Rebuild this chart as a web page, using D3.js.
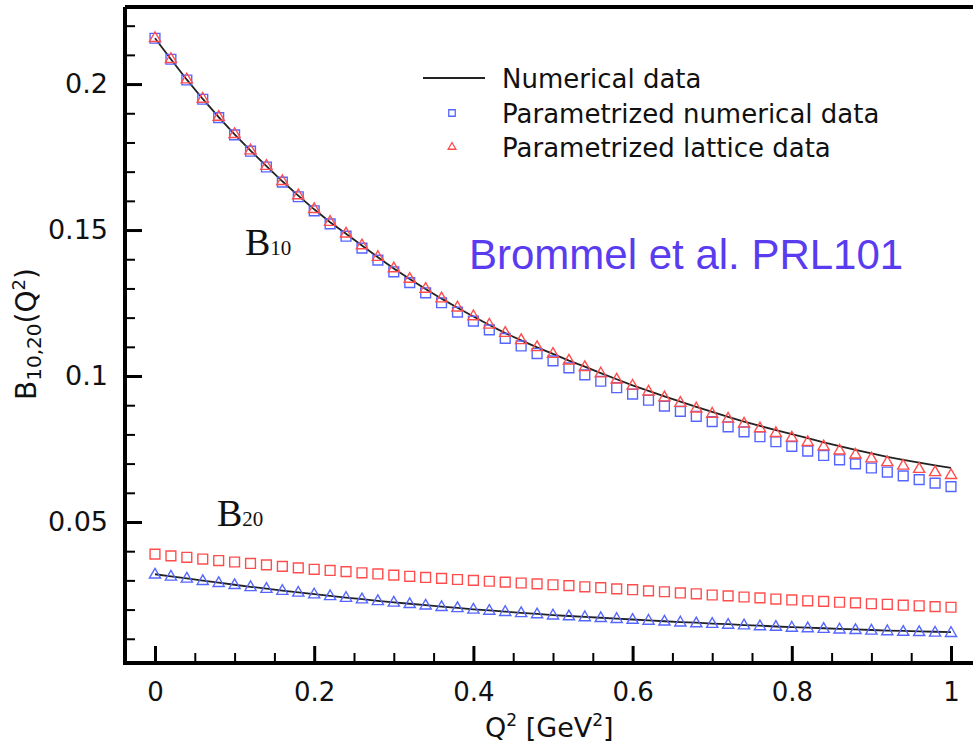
<!DOCTYPE html>
<html>
<head>
<meta charset="utf-8">
<script src="https://cdn.jsdelivr.net/npm/d3@7"></script>
<style>
  body { margin: 0; background: #fff; }
</style>
</head>
<body>
<svg id="viz" width="973" height="746" font-family="DejaVu Sans, sans-serif"></svg>
<script>
var width = 973;
var height = 746;

// ====================================================
// Data
// ====================================================
var q2 = [0, 0.02, 0.04, 0.06, 0.08, 0.1, 0.12, 0.14, 0.16, 0.18,
  0.2, 0.22, 0.24, 0.26, 0.28, 0.3, 0.32, 0.34, 0.36, 0.38,
  0.4, 0.42, 0.44, 0.46, 0.48, 0.5, 0.52, 0.54, 0.56, 0.58,
  0.6, 0.62, 0.64, 0.66, 0.68, 0.7, 0.72, 0.74, 0.76, 0.78,
  0.8, 0.82, 0.84, 0.86, 0.88, 0.9, 0.92, 0.94, 0.96, 0.98, 1];

// B10: numerical (line), parametrized numerical (blue squares), parametrized lattice (red triangles)
var numB10 = [0.2157, 0.2085, 0.2015, 0.1949, 0.1887, 0.1828, 0.1772, 0.1719, 0.1667, 0.1618,
  0.1571, 0.1527, 0.1487, 0.1447, 0.1407, 0.1368, 0.1332, 0.1298, 0.1265, 0.1234,
  0.1204, 0.1175, 0.1147, 0.1122, 0.1098, 0.1076, 0.1053, 0.1032, 0.1010, 0.0989,
  0.0968, 0.0949, 0.0930, 0.0912, 0.0894, 0.0877, 0.0860, 0.0844, 0.0829, 0.0815,
  0.0801, 0.0787, 0.0773, 0.0760, 0.0747, 0.0735, 0.0723, 0.0713, 0.0703, 0.0694, 0.0685];
var sqB10 = [0.2157, 0.2085, 0.2014, 0.1948, 0.1885, 0.1826, 0.1770, 0.1716, 0.1664, 0.1614,
  0.1566, 0.1521, 0.1479, 0.1438, 0.1397, 0.1357, 0.1320, 0.1285, 0.1251, 0.1219,
  0.1188, 0.1158, 0.1129, 0.1103, 0.1077, 0.1052, 0.1028, 0.1004, 0.0982, 0.0960,
  0.0938, 0.0917, 0.0897, 0.0879, 0.0862, 0.0844, 0.0826, 0.0809, 0.0792, 0.0775,
  0.0759, 0.0743, 0.0728, 0.0713, 0.0699, 0.0685, 0.0671, 0.0658, 0.0645, 0.0633, 0.0621];
var triB10 = [0.2157, 0.2085, 0.2015, 0.1949, 0.1887, 0.1828, 0.1772, 0.1719, 0.1667, 0.1618,
  0.1571, 0.1527, 0.1487, 0.1447, 0.1407, 0.1368, 0.1332, 0.1298, 0.1265, 0.1234,
  0.1204, 0.1175, 0.1147, 0.1122, 0.1098, 0.1075, 0.1052, 0.1030, 0.1008, 0.0987,
  0.0966, 0.0946, 0.0926, 0.0907, 0.0888, 0.0870, 0.0853, 0.0836, 0.0820, 0.0804,
  0.0788, 0.0773, 0.0758, 0.0744, 0.0730, 0.0717, 0.0704, 0.0692, 0.0681, 0.0670, 0.0660];

// B20: numerical (line), red squares, blue triangles
var numB20 = [0.0321, 0.0314, 0.0307, 0.0299, 0.0292, 0.0285, 0.0278, 0.0272, 0.0265, 0.0259,
  0.0253, 0.0247, 0.0241, 0.0236, 0.0230, 0.0225, 0.0220, 0.0215, 0.0210, 0.0206,
  0.0201, 0.0197, 0.0193, 0.0189, 0.0185, 0.0181, 0.0178, 0.0175, 0.0172, 0.0169,
  0.0166, 0.0163, 0.0160, 0.0157, 0.0155, 0.0152, 0.0150, 0.0147, 0.0145, 0.0142,
  0.0140, 0.0138, 0.0136, 0.0134, 0.0132, 0.0130, 0.0128, 0.0127, 0.0125, 0.0124, 0.0123];
var sqB20 = [0.0390, 0.0384, 0.0379, 0.0373, 0.0368, 0.0363, 0.0358, 0.0353, 0.0348, 0.0343,
  0.0338, 0.0334, 0.0330, 0.0326, 0.0322, 0.0318, 0.0314, 0.0310, 0.0307, 0.0303,
  0.0300, 0.0297, 0.0294, 0.0291, 0.0288, 0.0285, 0.0282, 0.0278, 0.0275, 0.0271,
  0.0268, 0.0264, 0.0261, 0.0257, 0.0254, 0.0250, 0.0247, 0.0243, 0.0240, 0.0236,
  0.0233, 0.0230, 0.0228, 0.0225, 0.0223, 0.0220, 0.0218, 0.0215, 0.0213, 0.0210, 0.0208];
var triB20 = [0.0319, 0.0312, 0.0305, 0.0297, 0.0290, 0.0283, 0.0276, 0.0270, 0.0263, 0.0257,
  0.0251, 0.0245, 0.0239, 0.0234, 0.0228, 0.0223, 0.0218, 0.0213, 0.0208, 0.0204,
  0.0199, 0.0195, 0.0191, 0.0187, 0.0183, 0.0179, 0.0176, 0.0173, 0.0170, 0.0167,
  0.0164, 0.0161, 0.0158, 0.0155, 0.0152, 0.0150, 0.0147, 0.0145, 0.0142, 0.0140,
  0.0137, 0.0135, 0.0133, 0.0131, 0.0129, 0.0127, 0.0125, 0.0123, 0.0122, 0.0120, 0.0119];

var xTicks = [0, 0.2, 0.4, 0.6, 0.8, 1];
var xTickLabels = ["0", "0.2", "0.4", "0.6", "0.8", "1"];
var yTicks = [0.05, 0.1, 0.15, 0.2];
var yTickLabels = ["0.05", "0.1", "0.15", "0.2"];

var legendLabels = ["Numerical data", "Parametrized numerical data", "Parametrized lattice data"];

var blue = "#5566ff";
var red = "#ff4d4d";

// ====================================================
// Scales
// ====================================================
var x = d3.scaleLinear().domain([0, 1]).range([155, 951]);
var y = d3.scaleLinear().domain([0.0017, 0.2264]).range([663, 7]);

var svg = d3.select("#viz");

// minor ticks (every 0.05 on x, 0.01 on y)
var xMinor = d3.range(0, 1.0001, 0.05).filter(v => Math.abs(v * 5 - Math.round(v * 5)) > 1e-6);
var yMinor = d3.range(0.01, 0.2251, 0.01).filter(v => Math.abs(v * 20 - Math.round(v * 20)) > 1e-6);

svg.append("g")
  .attr("transform", "translate(0,663)")
  .call(d3.axisBottom(x).tickValues(xMinor).tickSize(-10).tickFormat(""))
  .call(g => g.select(".domain").remove())
  .call(g => g.selectAll("line").attr("stroke", "#000").attr("stroke-width", 2));

svg.append("g")
  .attr("transform", "translate(0,663)")
  .call(d3.axisBottom(x).tickValues(xTicks).tickSizeInner(-17).tickSizeOuter(0).tickPadding(20)
    .tickFormat((d, i) => xTickLabels[i]))
  .call(g => g.select(".domain").remove())
  .call(g => g.selectAll("line").attr("stroke", "#000").attr("stroke-width", 3))
  .call(g => g.selectAll("text").attr("font-size", 26).attr("fill", "#111")
    .attr("font-family", "DejaVu Sans"));

svg.append("g")
  .attr("transform", "translate(125,0)")
  .call(d3.axisLeft(y).tickValues(yMinor).tickSize(-10).tickFormat(""))
  .call(g => g.select(".domain").remove())
  .call(g => g.selectAll("line").attr("stroke", "#000").attr("stroke-width", 2));

svg.append("g")
  .attr("transform", "translate(125,0)")
  .call(d3.axisLeft(y).tickValues(yTicks).tickSizeInner(-17).tickSizeOuter(0).tickPadding(17)
    .tickFormat((d, i) => yTickLabels[i]))
  .call(g => g.select(".domain").remove())
  .call(g => g.selectAll("line").attr("stroke", "#000").attr("stroke-width", 3))
  .call(g => g.selectAll("text").attr("font-size", 27).attr("fill", "#111")
    .attr("font-family", "DejaVu Sans"));

// frame
svg.append("path")
  .attr("d", "M125,7H980M125,7V663M123,663H980")
  .attr("fill", "none")
  .attr("stroke", "#000")
  .attr("stroke-width", 4);

// ====================================================
// Series
// ====================================================
var line = d3.line().x((d, i) => x(q2[i])).y(d => y(d));

[numB10, numB20].forEach(function (s) {
  svg.append("path")
    .datum(s)
    .attr("d", line)
    .attr("fill", "none")
    .attr("stroke", "#222")
    .attr("stroke-width", 1.8);
});

var square = d3.symbol(d3.symbolSquare, 96);
var triangle = d3.symbol(d3.symbolTriangle, 54);

function drawMarkers(values, sym, col) {
  svg.append("g")
    .selectAll("path")
    .data(values)
    .join("path")
    .attr("d", sym)
    .attr("transform", (d, i) => `translate(${x(q2[i])},${y(d)})`)
    .attr("fill", "none")
    .attr("stroke", col)
    .attr("stroke-width", 1.4);
}

drawMarkers(sqB10, square, blue);
drawMarkers(triB10, triangle, red);
drawMarkers(sqB20, square, red);
drawMarkers(triB20, triangle, blue);

// ====================================================
// Labels
// ====================================================
function bLabel(px, py, sub) {
  var t = svg.append("text")
    .attr("x", px).attr("y", py)
    .attr("font-family", "Liberation Serif, serif")
    .attr("font-size", 38)
    .attr("fill", "#111");
  t.append("tspan").text("B");
  t.append("tspan").attr("font-size", 21).text(sub);
}
bLabel(245, 255, "10");
bLabel(217, 526, "20");

svg.append("text")
  .attr("x", 469).attr("y", 269)
  .attr("font-family", "Liberation Sans, Arial, sans-serif")
  .attr("font-size", 42)
  .attr("fill", "#5a3cf0")
  .text("Brommel et al. PRL101");

// x axis title
var xt = svg.append("text")
  .attr("x", 485).attr("y", 737)
  .attr("font-size", 27)
  .attr("fill", "#111");
xt.append("tspan").text("Q");
xt.append("tspan").attr("font-size", 17).attr("dy", -11).text("2");
xt.append("tspan").attr("dy", 11).text(" [GeV");
xt.append("tspan").attr("font-size", 17).attr("dy", -11).text("2");
xt.append("tspan").attr("dy", 11).text("]");

// y axis title
var yt = svg.append("text")
  .attr("transform", "translate(36,400) rotate(-90)")
  .attr("font-size", 28)
  .attr("fill", "#111");
yt.append("tspan").text("B");
yt.append("tspan").attr("font-size", 20).attr("dy", 5).text("10,20");
yt.append("tspan").attr("dy", -5).text("(Q");
yt.append("tspan").attr("font-size", 18).attr("dy", -11).text("2");
yt.append("tspan").attr("dy", 11).text(")");

// ====================================================
// Legend
// ====================================================
var legend = svg.append("g");
legend.append("line")
  .attr("x1", 423).attr("x2", 485).attr("y1", 78).attr("y2", 78)
  .attr("stroke", "#222").attr("stroke-width", 2);
legend.append("path")
  .attr("d", d3.symbol(d3.symbolSquare, 42))
  .attr("transform", "translate(452,113)")
  .attr("fill", "none").attr("stroke", blue).attr("stroke-width", 1.3);
legend.append("path")
  .attr("d", d3.symbol(d3.symbolTriangle, 26))
  .attr("transform", "translate(452,147)")
  .attr("fill", "none").attr("stroke", red).attr("stroke-width", 1.3);
legend.selectAll("text")
  .data(legendLabels)
  .join("text")
  .attr("x", 502)
  .attr("y", (d, i) => 88 + i * 34.5)
  .attr("font-size", 26)
  .attr("fill", "#111")
  .text(d => d);
</script>
</body>
</html>
